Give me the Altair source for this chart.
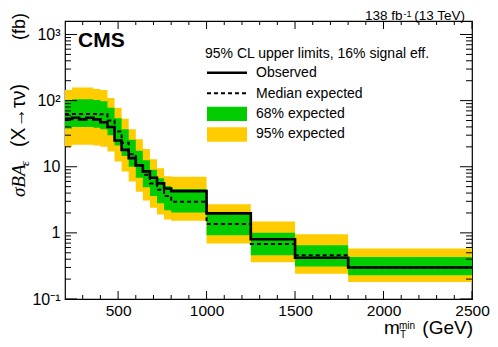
import altair as alt
import pandas as pd

# ---------------- data ----------------
edges = [200, 240, 280, 320, 360, 400, 440, 480, 520, 560, 600, 640, 680, 720, 760,
         800, 1000, 1250, 1500, 1800, 2500]
observed = [53, 55, 52, 55, 52, 47, 40, 25, 18, 13.5, 10.5, 8.5, 6.8, 5.6, 4.7,
            4.28, 1.97, 0.80, 0.42, 0.30]
expected = [63, 63, 63, 63, 63, 62, 50, 34, 23, 15.5, 10.5, 7.6, 5.6, 4.5, 3.6,
            2.95, 1.36, 0.68, 0.46, 0.30]
band68_hi = [100, 105, 105, 105, 102, 98, 78, 54, 37, 25.5, 17.5, 12.5, 9, 6.7, 5.1,
             4.6, 1.97, 1.0, 0.65, 0.43]
band68_lo = [38, 40, 40, 40, 39, 37, 30, 21, 14.5, 10, 6.8, 4.9, 3.6, 2.8, 2.2,
             2.04, 0.92, 0.46, 0.31, 0.229]
band95_hi = [145, 158, 158, 158, 150, 145, 110, 78, 53, 37, 26, 18.5, 13, 9.5, 7.2,
             7.05, 2.72, 1.49, 0.955, 0.58]
band95_lo = [20, 21.5, 21.5, 21.5, 21, 20, 17, 12, 8.5, 6, 4.2, 3.1, 2.4, 1.9, 1.6,
             1.52, 0.69, 0.36, 0.24, 0.18]

x_major = [500, 1000, 1500, 2000, 2500]
x_minor = [300, 400, 600, 700, 800, 900, 1100, 1200, 1300, 1400, 1600, 1700, 1800,
           1900, 2100, 2200, 2300, 2400]
y_major = [0.1, 1, 10, 100, 1000]
y_minor = [m * d for d in (0.1, 1, 10, 100) for m in range(2, 10)]

legend_header = "95% CL upper limits, 16% signal eff."
legend_labels = ["Observed", "Median expected", "68% expected", "95% expected"]

FONT = "Liberation Sans"
SERIF = "Liberation Serif"
GREEN = "#00CC00"
YELLOW = "#FFCC00"

W, H = 407, 278


def step(vals):
    return list(vals) + [vals[-1]]


df = pd.DataFrame({
    "x": edges,
    "obs": step(observed),
    "exp": step(expected),
    "g_hi": step(band68_hi),
    "g_lo": step(band68_lo),
    "y_hi": step(band95_hi),
    "y_lo": step(band95_lo),
})

xs = alt.Scale(domain=[200, 2500], nice=False, zero=False)
ys = alt.Scale(type="log", domain=[0.1, 1600], nice=False)

x_axis = alt.Axis(values=x_major, ticks=False, domain=False, grid=False, title=None,
                  format="d",
                  labelFont=FONT, labelFontSize=15.5, labelColor="black", labelPadding=4,
                  labelFlush=False, labelOverlap=False)
y_axis = alt.Axis(values=y_major, ticks=False, domain=False, grid=False, title=None,
                  labelFont=FONT, labelFontSize=16, labelColor="black", labelPadding=5,
                  labelFlush=False, labelOverlap=False,
                  labelExpr="datum.value < 0.5 ? '10\u207b\u00b9' : datum.value < 5 ? '1' : "
                            "datum.value < 50 ? '10' : datum.value < 500 ? '10\u00b2' : '10\u00b3'")


def X(f):
    return alt.X(f, type="quantitative", scale=xs, axis=x_axis)


def Y(f):
    return alt.Y(f, type="quantitative", scale=ys, axis=y_axis)


base = alt.Chart(df)
yellow = base.mark_area(interpolate="step-after", color=YELLOW, opacity=1).encode(
    x=X("x"), y=Y("y_hi"), y2="y_lo")
green = base.mark_area(interpolate="step-after", color=GREEN, opacity=1).encode(
    x=X("x"), y=Y("g_hi"), y2="g_lo")
exp_line = base.mark_line(interpolate="step-after", color="black", strokeWidth=2,
                          strokeDash=[4, 3]).encode(x=X("x"), y=Y("exp"))
obs_line = base.mark_line(interpolate="step-after", color="black", strokeWidth=2.6).encode(
    x=X("x"), y=Y("obs"))

# inward ROOT-style ticks
ymaj = pd.DataFrame({"v": y_major})
ymin = pd.DataFrame({"v": y_minor})
xmaj = pd.DataFrame({"v": x_major})
xmin = pd.DataFrame({"v": x_minor})


def yticks(d, length):
    l = alt.Chart(d).mark_rule(color="black", strokeWidth=1).encode(
        y=Y("v"), x=alt.value(0), x2=alt.value(length))
    r = alt.Chart(d).mark_rule(color="black", strokeWidth=1).encode(
        y=Y("v"), x=alt.value(W - length), x2=alt.value(W))
    return [l, r]


def xticks(d, length):
    b = alt.Chart(d).mark_rule(color="black", strokeWidth=1).encode(
        x=X("v"), y=alt.value(H - length), y2=alt.value(H))
    t = alt.Chart(d).mark_rule(color="black", strokeWidth=1).encode(
        x=X("v"), y=alt.value(0), y2=alt.value(length))
    return [b, t]


ticks = yticks(ymaj, 12) + yticks(ymin, 6) + xticks(xmaj, 8) + xticks(xmin, 4)


def txt(s, x, y, size, font=FONT, align="left", **kw):
    return alt.Chart(pd.DataFrame({"t": [s]})).mark_text(
        font=font, fontSize=size, align=align, baseline="alphabetic", color="black", **kw
    ).encode(x=alt.value(x), y=alt.value(y), text="t:N")


texts = [
    txt("CMS", 13, 26, 21, fontWeight="bold"),
    # luminosity label
    txt("138 fb", 337.5, -1, 13.5, align="right"),
    txt("-1", 338.5, -4.5, 9),
    txt("(13 TeV)", 400, -1, 13.5, align="right"),
    # x title
    txt("m", 319, 313, 19),
    txt("min", 334, 307.5, 10),
    txt("T", 335, 317, 10),
    txt("(GeV)", 408, 313, 19, align="right"),
    # y title (rotated)
    txt("\u03c3BA", -40, 176, 19, font=SERIF, angle=270, fontStyle="italic"),
    txt("\u03b5", -36, 145, 13, font=SERIF, angle=270, fontStyle="italic"),
    txt("(X\u2192\u03c4\u03bd)", -40, 126, 19.5, angle=270),
    txt("(fb)", -40, -8, 18, angle=270, align="right"),
    # legend
    txt(legend_header, 140, 37, 14),
    txt(legend_labels[0], 191, 56, 14),
    txt(legend_labels[1], 191, 76.5, 14),
    txt(legend_labels[2], 191, 97, 14),
    txt(legend_labels[3], 191, 117, 14),
]

one = pd.DataFrame({"a": [0]})
leg = [
    alt.Chart(one).mark_rule(color="black", strokeWidth=2.6).encode(
        x=alt.value(142), x2=alt.value(182), y=alt.value(51.7)),
    alt.Chart(one).mark_rule(color="black", strokeWidth=2, strokeDash=[4, 3]).encode(
        x=alt.value(142), x2=alt.value(182), y=alt.value(72.3)),
    alt.Chart(one).mark_rect(color=GREEN).encode(
        x=alt.value(142), x2=alt.value(182), y=alt.value(85.7), y2=alt.value(100)),
    alt.Chart(one).mark_rect(color=YELLOW).encode(
        x=alt.value(142), x2=alt.value(182), y=alt.value(106.3), y2=alt.value(120.7)),
]

chart = alt.layer(yellow, green, exp_line, obs_line, *ticks, *texts, *leg).properties(
    width=W, height=H,
    autosize=alt.AutoSizeParams(type="none"),
    padding={"left": 57, "top": 13, "right": 18, "bottom": 40},
    background="white",
).configure_view(stroke="black", strokeWidth=1.2)

chart.save("out.html", embed_options={"renderer": "svg", "actions": False})
